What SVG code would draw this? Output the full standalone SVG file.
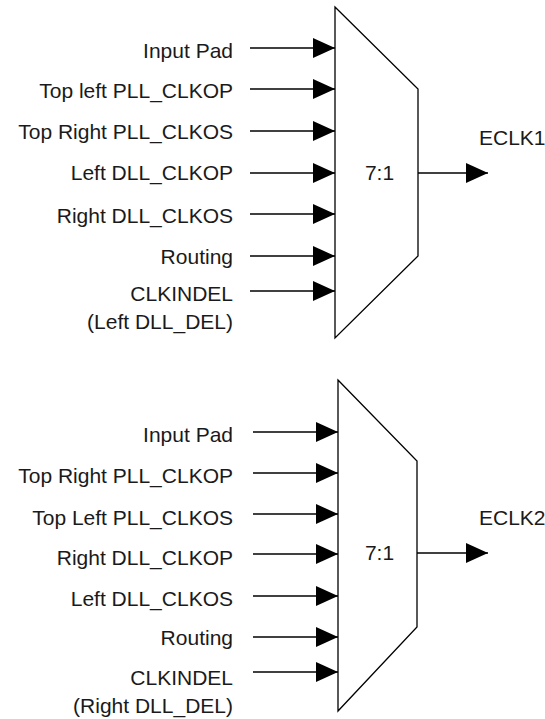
<svg xmlns="http://www.w3.org/2000/svg" width="545" height="719" viewBox="0 0 545 719">
<style>
  text { font-family: "Liberation Sans", Arial, sans-serif; font-size: 21px; fill: #1a1a1a; }
  .lbl { text-anchor: end; }
  .mux { fill: #ffffff; stroke: #000000; stroke-width: 1.3; }
  .wire { stroke: #000000; stroke-width: 1.3; fill: none; marker-end: url(#arr); }
</style>
<defs>
  <marker id="arr" markerUnits="userSpaceOnUse" markerWidth="22" markerHeight="20" refX="22" refY="10" orient="auto" viewBox="0 0 22 20">
    <path d="M0,0 L22,10 L0,20 Z" fill="#000000"/>
  </marker>
</defs>
<rect width="545" height="719" fill="#ffffff"/>

<g id="mux1">
  <polygon class="mux" points="335,7 418,89 418,256 335,338"/>
  <text x="379.5" y="180" text-anchor="middle">7:1</text>
</g>
<g id="mux2">
  <polygon class="mux" points="338,380 417,461 417,627 338,711"/>
  <text x="379.5" y="560" text-anchor="middle">7:1</text>
</g>

<g id="labels1">
  <text class="lbl" x="233" y="58">Input Pad</text>
  <text class="lbl" x="233" y="98">Top left PLL_CLKOP</text>
  <text class="lbl" x="233" y="139">Top Right PLL_CLKOS</text>
  <text class="lbl" x="233" y="180">Left DLL_CLKOP</text>
  <text class="lbl" x="233" y="223">Right DLL_CLKOS</text>
  <text class="lbl" x="233" y="264">Routing</text>
  <text class="lbl" x="233" y="301">CLKINDEL</text>
  <text class="lbl" x="233" y="329">(Left DLL_DEL)</text>
</g>
<g id="labels2">
  <text class="lbl" x="233" y="442">Input Pad</text>
  <text class="lbl" x="233" y="483">Top Right PLL_CLKOP</text>
  <text class="lbl" x="233" y="525">Top Left PLL_CLKOS</text>
  <text class="lbl" x="233" y="565">Right DLL_CLKOP</text>
  <text class="lbl" x="233" y="606">Left DLL_CLKOS</text>
  <text class="lbl" x="233" y="645">Routing</text>
  <text class="lbl" x="233" y="685">CLKINDEL</text>
  <text class="lbl" x="233" y="713">(Right DLL_DEL)</text>
</g>
<g id="out1"><text x="479" y="145">ECLK1</text></g>
<g id="out2"><text x="479" y="525">ECLK2</text></g>

<g id="connectors">
  <line class="wire" x1="250" y1="48" x2="335" y2="48"/>
  <line class="wire" x1="250" y1="89" x2="335" y2="89"/>
  <line class="wire" x1="250" y1="131" x2="335" y2="131"/>
  <line class="wire" x1="250" y1="173" x2="335" y2="173"/>
  <line class="wire" x1="250" y1="214" x2="335" y2="214"/>
  <line class="wire" x1="250" y1="256" x2="335" y2="256"/>
  <line class="wire" x1="250" y1="291" x2="335" y2="291"/>
  <line class="wire" x1="418" y1="173" x2="488" y2="173"/>

  <line class="wire" x1="253" y1="432" x2="338" y2="432"/>
  <line class="wire" x1="253" y1="473" x2="338" y2="473"/>
  <line class="wire" x1="253" y1="514" x2="338" y2="514"/>
  <line class="wire" x1="253" y1="554" x2="338" y2="554"/>
  <line class="wire" x1="253" y1="596" x2="338" y2="596"/>
  <line class="wire" x1="253" y1="637" x2="338" y2="637"/>
  <line class="wire" x1="253" y1="672" x2="338" y2="672"/>
  <line class="wire" x1="417" y1="553" x2="488" y2="553"/>
</g>
</svg>
